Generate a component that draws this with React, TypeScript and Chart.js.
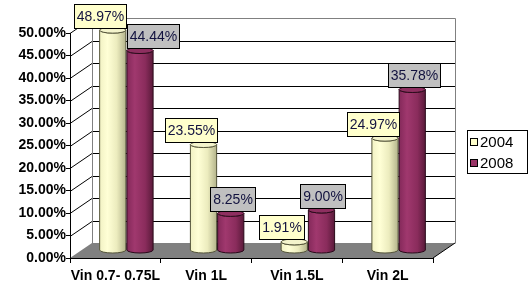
import { useEffect, useRef } from 'react';
import { Chart, registerables } from 'chart.js';

Chart.register(...registerables);

const categories = ['Vin 0.7- 0.75L', 'Vin 1L', 'Vin 1.5L', 'Vin 2L'];
const seriesNames = ['2004', '2008'];
const values2004 = [48.97, 23.55, 1.91, 24.97];
const values2008 = [44.44, 8.25, 9.0, 35.78];
const yMin = 0;
const yMax = 50;
const yStep = 5;

const DX = 22;
const DY = -15;
const FONT = '"Liberation Sans", Arial, sans-serif';

const palettes = [
  {
    side: [[0, '#f2f2c4'], [0.3, '#ffffd6'], [0.65, '#ececbe'], [1, '#b4b48c']],
    top: '#f4f4cc',
    line: '#55553a',
    label: '#FFFFCC',
    legend: '#FFFFCC',
  },
  {
    side: [[0, '#84295a'], [0.3, '#a0386e'], [0.7, '#8a2c5c'], [1, '#5a1a3a']],
    top: '#8e2f60',
    line: '#2a0a1a',
    label: '#C0C0C0',
    legend: '#993366',
  },
];

function drawCylinder(ctx: CanvasRenderingContext2D, cx: number, top: number, bottom: number, w: number, pal: any) {
  const rx = w / 2 - 0.5;
  const ry = 3;
  const l = cx - rx;
  const r = cx + rx;
  const g = ctx.createLinearGradient(l, 0, r, 0);
  pal.side.forEach(([o, c]: [number, string]) => g.addColorStop(o, c));
  ctx.beginPath();
  ctx.moveTo(l, top);
  ctx.lineTo(l, bottom);
  ctx.ellipse(cx, bottom, rx, ry, 0, Math.PI, 0, true);
  ctx.lineTo(r, top);
  ctx.ellipse(cx, top, rx, ry, 0, 0, Math.PI, false);
  ctx.closePath();
  ctx.fillStyle = g;
  ctx.fill();
  ctx.lineWidth = 1;
  ctx.strokeStyle = pal.line;
  ctx.stroke();
  ctx.beginPath();
  ctx.ellipse(cx, top, rx, ry, 0, 0, Math.PI * 2);
  ctx.fillStyle = pal.top;
  ctx.fill();
  ctx.stroke();
}

const threeD = {
  id: 'threeD',
  beforeDraw(chart: any) {
    const { ctx, chartArea: a, scales } = chart;
    const y = scales.y;
    ctx.save();
    ctx.fillStyle = '#808080';
    ctx.beginPath();
    ctx.moveTo(a.left, a.bottom);
    ctx.lineTo(a.right, a.bottom);
    ctx.lineTo(a.right + DX, a.bottom + DY);
    ctx.lineTo(a.left + DX, a.bottom + DY);
    ctx.closePath();
    ctx.fill();
    ctx.lineWidth = 1;
    const topY = Math.round(y.getPixelForValue(yMax) + DY) + 0.5;
    const botY = Math.round(a.bottom + DY) + 0.5;
    const bl = Math.round(a.left + DX) + 0.5;
    const br = Math.round(a.right + DX) + 0.5;
    y.ticks.forEach((t: any) => {
      const py = Math.round(y.getPixelForValue(t.value)) + 0.5;
      if (t.value > yMin && t.value < yMax) {
        ctx.strokeStyle = '#000';
        ctx.beginPath();
        ctx.moveTo(bl, py + DY);
        ctx.lineTo(br, py + DY);
        ctx.stroke();
      }
      if (t.value > yMin) {
        ctx.strokeStyle = '#000';
        ctx.beginPath();
        ctx.moveTo(a.left, py);
        ctx.lineTo(a.left + DX, py + DY);
        ctx.stroke();
      }
    });
    ctx.strokeStyle = '#808080';
    ctx.beginPath();
    ctx.moveTo(bl, botY);
    ctx.lineTo(bl, topY);
    ctx.lineTo(br, topY);
    ctx.lineTo(br, botY);
    ctx.stroke();
    ctx.strokeStyle = '#000';
    ctx.beginPath();
    ctx.moveTo(a.right, a.bottom);
    ctx.lineTo(a.right + DX, a.bottom + DY);
    ctx.stroke();
    ctx.restore();
  },
  beforeDatasetsDraw(chart: any) {
    const ctx: CanvasRenderingContext2D = chart.ctx;
    const metas = [0, 1].map((i) => chart.getDatasetMeta(i));
    ctx.save();
    const boxes: any[] = [];
    for (let c = 0; c < categories.length; c++) {
      for (let d = 0; d < 2; d++) {
        const el = metas[d].data[c];
        const p = el.getProps(['x', 'y', 'base', 'width'], true);
        drawCylinder(ctx, p.x + DX / 2, p.y + DY / 2, p.base + DY / 2, p.width, palettes[d]);
      }
    }
    ctx.font = '14px ' + FONT;
    for (let c = 0; c < categories.length; c++) {
      for (let d = 0; d < 2; d++) {
        const el = metas[d].data[c];
        const p = el.getProps(['x', 'y'], true);
        const v = chart.data.datasets[d].data[c] as number;
        const text = v.toFixed(2) + '%';
        const tw = ctx.measureText(text).width;
        const bw = Math.round(tw + 6);
        const bh = 25;
        let bx = Math.round(p.x + DX / 2 + (d === 0 ? -12 : 2) - bw / 2);
        const by = Math.round(p.y + DY / 2 - 14 - bh / 2);
        if (d === 1) {
          const prev = boxes[boxes.length - 1];
          if (bx < prev.x + prev.w && by < prev.y + prev.h && by + bh > prev.y) bx = prev.x + prev.w;
        }
        boxes.push({ x: bx, y: by, w: bw, h: bh, text, d });
      }
    }
    boxes.forEach((b) => {
      ctx.fillStyle = palettes[b.d].label;
      ctx.fillRect(b.x, b.y, b.w, b.h);
      ctx.strokeStyle = '#000';
      ctx.lineWidth = 1;
      ctx.strokeRect(b.x + 0.5, b.y + 0.5, b.w - 1, b.h - 1);
      ctx.fillStyle = '#12123f';
      ctx.textAlign = 'center';
      ctx.textBaseline = 'middle';
      ctx.fillText(b.text, b.x + b.w / 2, b.y + b.h / 2 + 1);
    });
    ctx.restore();
    return false;
  },
  afterDraw(chart: any) {
    const ctx: CanvasRenderingContext2D = chart.ctx;
    ctx.save();
    const lx = 467.5, ly = 130.5, lw = 60, lh = 43;
    ctx.fillStyle = '#fff';
    ctx.fillRect(lx, ly, lw, lh);
    ctx.strokeStyle = '#000';
    ctx.lineWidth = 1;
    ctx.strokeRect(lx, ly, lw, lh);
    ctx.font = '15px ' + FONT;
    ctx.textBaseline = 'middle';
    ctx.textAlign = 'left';
    chart.data.datasets.forEach((ds: any, i: number) => {
      const cy = 142 + i * 21;
      ctx.fillStyle = palettes[i].legend;
      ctx.fillRect(470.5, cy - 3.5, 7, 7);
      ctx.strokeStyle = '#000';
      ctx.strokeRect(470.5, cy - 3.5, 7, 7);
      ctx.fillStyle = '#000';
      ctx.fillText(ds.label, 480, cy + 1);
    });
    ctx.restore();
  },
};

export default function App() {
  const ref = useRef<HTMLCanvasElement>(null);
  useEffect(() => {
    const chart = new Chart(ref.current as HTMLCanvasElement, {
      type: 'bar',
      data: {
        labels: categories,
        datasets: [
          { label: seriesNames[0], data: values2004, backgroundColor: '#FFFFCC' },
          { label: seriesNames[1], data: values2008, backgroundColor: '#993366' },
        ],
      },
      options: {
        animation: false,
        responsive: false,
        layout: { padding: { top: 33, right: 95, left: 0, bottom: 0 } },
        datasets: { bar: { barPercentage: 1, categoryPercentage: 0.6 } },
        plugins: { legend: { display: false }, tooltip: { enabled: false } },
        scales: {
          x: {
            grid: { drawOnChartArea: false, tickLength: 5, color: '#000', offset: true },
            border: { color: '#000' },
            ticks: {
              autoSkip: false,
              maxRotation: 0,
              color: '#000',
              padding: 5,
              font: { family: FONT, weight: 'bold', size: 14 },
            },
            afterFit: (s: any) => { s.height = 45; },
          },
          y: {
            min: yMin,
            max: yMax,
            grid: { drawOnChartArea: false, tickLength: 4, color: '#000' },
            border: { color: '#000' },
            ticks: {
              stepSize: yStep,
              padding: 0,
              color: '#000',
              font: { family: FONT, weight: 'bold', size: 14 },
              callback: (v: any) => Number(v).toFixed(2) + '%',
            },
            afterFit: (s: any) => { s.width = 70; },
          },
        },
      } as any,
      plugins: [threeD as any],
    });
    return () => chart.destroy();
  }, []);
  return (
    <div style={{ position: 'fixed', left: 0, top: 0, width: 528, height: 303, background: '#fff' }}>
      <canvas ref={ref} width={528} height={303} style={{ display: 'block' }} />
    </div>
  );
}
